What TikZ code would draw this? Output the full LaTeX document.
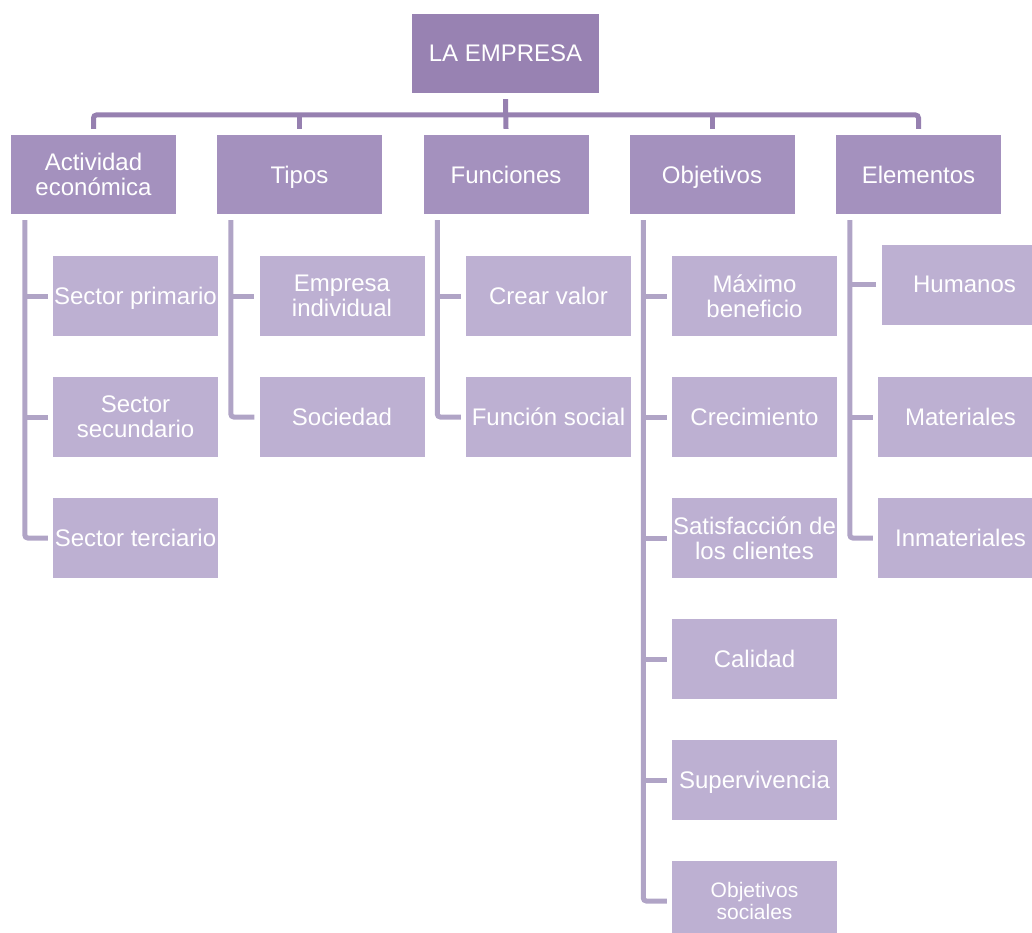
\documentclass[tikz,border=0pt]{standalone}
\usepackage{fontspec}
\setmainfont{Liberation Sans}
\definecolor{raizfill}{RGB}{152,130,178}
\definecolor{ramafill}{RGB}{164,145,190}
\definecolor{hojafill}{RGB}{189,176,210}
\definecolor{barracolor}{RGB}{150,128,176}
\definecolor{guiacolor}{RGB}{176,164,198}
\begin{document}
\begin{tikzpicture}[x=1pt,y=-1pt,
		raiz/.style={fill=raizfill,text=white,minimum width=187pt,minimum height=79pt,inner sep=0pt,text depth=0pt,align=center,font=\fontsize{24}{25}\selectfont},
		rama/.style={raiz,fill=ramafill,minimum width=165pt},
		hoja/.style={raiz,fill=hojafill,minimum width=165pt,minimum height=80pt},
		barra/.style={draw=barracolor,line width=5pt,rounded corners=3pt},
		guia/.style={draw=guiacolor,line width=5pt,rounded corners=3pt}]
			\clip (0,0) rectangle (1032,933);
			\node[raiz] (empresa) at (505.5,53.5) {LA EMPRESA};
			\node[rama] (actividad) at (93.5,174.5) {Actividad\\económica};
			\node[rama] (tipos) at (299.5,174.5) {Tipos};
			\node[rama] (funciones) at (506,174.5) {Funciones};
			\node[rama] (objetivos) at (712,174.5) {Objetivos};
			\node[rama] (elementos) at (918.5,174.5) {Elementos};

			\node[hoja] (primario) at (135.5,296) {Sector primario};
			\node[hoja] (secundario) at (135.5,417) {Sector\\secundario};
			\node[hoja] (terciario) at (135.5,538) {Sector terciario};
			\node[hoja] (individual) at (342,296) {Empresa\\individual};
			\node[hoja] (sociedad) at (342,417) {Sociedad};
			\node[hoja] (valor) at (548.5,296) {Crear valor};
			\node[hoja] (social) at (548.5,417) {Función social};
			\node[hoja] (beneficio) at (754.5,296) {Máximo\\beneficio};
			\node[hoja] (crecimiento) at (754.5,417) {Crecimiento};
			\node[hoja] (satisfaccion) at (754.5,538) {Satisfacción de\\los clientes};
			\node[hoja] (calidad) at (754.5,659) {Calidad};
			\node[hoja] (supervivencia) at (754.5,780) {Supervivencia};
			\node[hoja,font=\fontsize{21}{22}\selectfont] (sociales) at (754.5,901) {Objetivos\\sociales};
			\node[hoja] (humanos) at (964.5,284.5) {Humanos};
			\node[hoja] (materiales) at (960.5,417) {Materiales};
			\node[hoja] (inmateriales) at (960.5,538) {Inmateriales};

			\coordinate (cruce) at (506,115);
			\draw[barra] ([yshift=6]actividad.north) |- (cruce) -| ([yshift=6]elementos.north);
			\draw[barra] ([yshift=-6]empresa.south) -- ([yshift=6]funciones.north);
			\draw[barra] ([yshift=6]tipos.north) -- (tipos.north |- cruce);
			\draw[barra] ([yshift=6]objetivos.north) -- (objetivos.north |- cruce);

			\coordinate (ejeA) at ([xshift=14,yshift=-6]actividad.south west);
			\coordinate (ejeT) at ([xshift=14,yshift=-6]tipos.south west);
			\coordinate (ejeF) at ([xshift=14,yshift=-6]funciones.south west);
			\coordinate (ejeO) at ([xshift=14,yshift=-6]objetivos.south west);
			\coordinate (ejeE) at ([xshift=14,yshift=-6]elementos.south west);

			\draw[guia] (ejeA) |- ([xshift=-5]terciario.west);
			\draw[guia] (ejeA |- primario.west) -- ([xshift=-5]primario.west);
			\draw[guia] (ejeA |- secundario.west) -- ([xshift=-5]secundario.west);

			\draw[guia] (ejeT) |- ([xshift=-5]sociedad.west);
			\draw[guia] (ejeT |- individual.west) -- ([xshift=-5]individual.west);

			\draw[guia] (ejeF) |- ([xshift=-5]social.west);
			\draw[guia] (ejeF |- valor.west) -- ([xshift=-5]valor.west);

			\draw[guia] (ejeO) |- ([xshift=-5]sociales.west);
			\draw[guia] (ejeO |- beneficio.west) -- ([xshift=-5]beneficio.west);
			\draw[guia] (ejeO |- crecimiento.west) -- ([xshift=-5]crecimiento.west);
			\draw[guia] (ejeO |- satisfaccion.west) -- ([xshift=-5]satisfaccion.west);
			\draw[guia] (ejeO |- calidad.west) -- ([xshift=-5]calidad.west);
			\draw[guia] (ejeO |- supervivencia.west) -- ([xshift=-5]supervivencia.west);

			\draw[guia] (ejeE) |- ([xshift=-5]inmateriales.west);
			\draw[guia] (ejeE |- humanos.west) -- ([xshift=-6]humanos.west);
			\draw[guia] (ejeE |- materiales.west) -- ([xshift=-5]materiales.west);
		\end{tikzpicture}
\end{document}
